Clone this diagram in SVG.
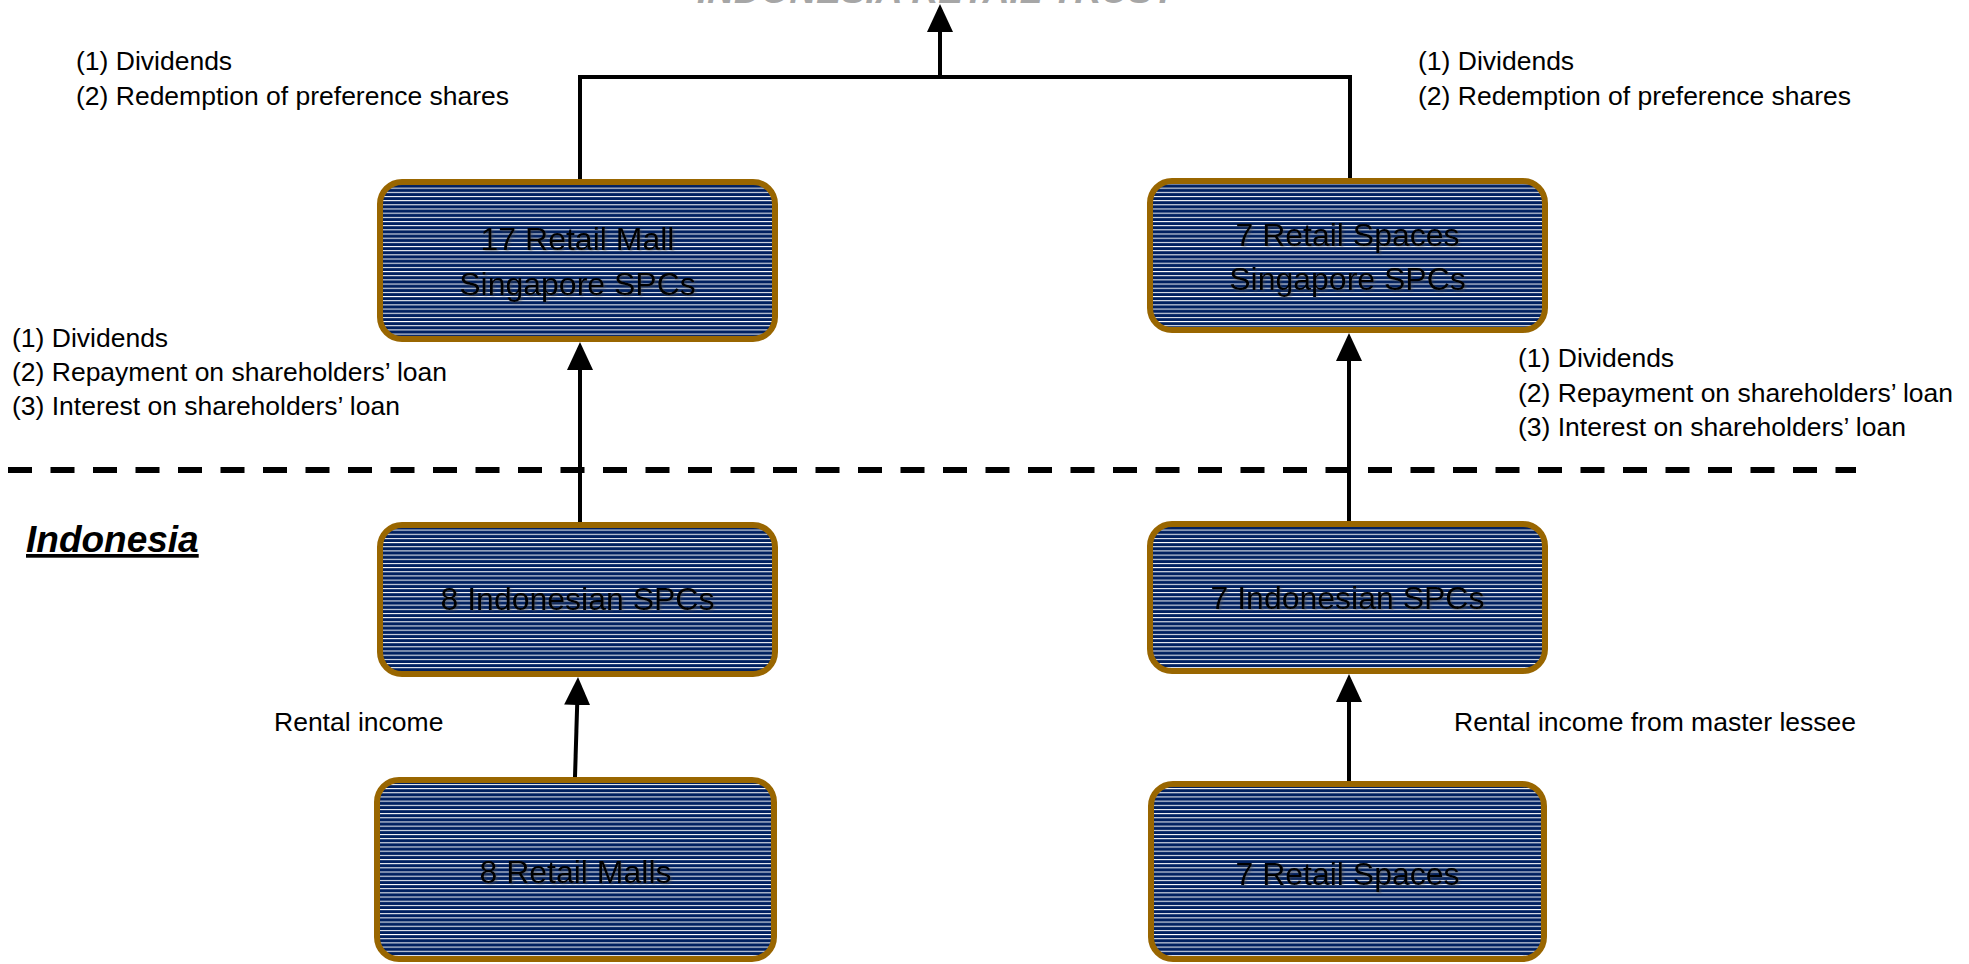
<svg xmlns="http://www.w3.org/2000/svg" width="1969" height="964" viewBox="0 0 1969 964">
<defs>
  <pattern id="hz" patternUnits="userSpaceOnUse" width="12" height="4.17">
    <rect x="0" y="0" width="12" height="4.17" fill="#002060"/>
    <rect x="0" y="0" width="12" height="1" fill="#ffffff"/>
  </pattern>
  <marker id="ah" markerUnits="userSpaceOnUse" markerWidth="28" markerHeight="26" refX="8" refY="13" orient="auto" viewBox="0 0 28 26">
    <path d="M0,0 L28,13 L0,26 z" fill="#000"/>
  </marker>
  <filter id="sh" x="-10%" y="-30%" width="120%" height="160%">
    <feDropShadow dx="1.5" dy="1.5" stdDeviation="0.8" flood-color="#444" flood-opacity="0.5"/>
  </filter>
</defs>
<style>
  .box{fill:url(#hz);stroke:#996600;stroke-width:6}
  .bt{font-family:"Liberation Sans",Arial,sans-serif;font-size:32px;fill:#000;text-anchor:middle;filter:url(#sh)}
  .lbl{font-family:"Liberation Sans",Arial,sans-serif;font-size:26.5px;fill:#000}
  .con{fill:none;stroke:#000;stroke-width:4}
  .arr{fill:none;stroke:#000;stroke-width:4;marker-end:url(#ah)}
</style>
<rect x="0" y="0" width="1969" height="964" fill="#ffffff"/>

<text x="697" y="3" font-family="Liberation Sans, Arial, sans-serif" font-size="37" font-weight="bold" font-style="italic" fill="#a6a6a6">INDONESIA RETAIL TRUST</text>

<g id="connectors">
  <polyline class="con" points="580,182 580,77 1350,77 1350,181" stroke-linejoin="miter"/>
  <line class="arr" x1="940" y1="77" x2="940" y2="24"/>
  <line class="arr" x1="580" y1="522" x2="580" y2="362"/>
  <line class="arr" x1="575" y1="777" x2="577.4" y2="697"/>
  <line class="arr" x1="1349" y1="521" x2="1349" y2="353"/>
  <line class="arr" x1="1349" y1="781" x2="1349" y2="694"/>
  <line x1="8" y1="470" x2="1856" y2="470" stroke="#000" stroke-width="6" stroke-dasharray="24 18.5"/>
</g>

<g id="node-sg-mall">
  <rect class="box" x="380" y="182" width="395" height="157" rx="22"/>
  <text class="bt" x="577.5" y="250">17 Retail Mall</text>
  <text class="bt" x="577.5" y="295">Singapore SPCs</text>
</g>
<g id="node-sg-spaces">
  <rect class="box" x="1150" y="181" width="395" height="149" rx="22"/>
  <text class="bt" x="1347.5" y="246">7 Retail Spaces</text>
  <text class="bt" x="1347.5" y="290">Singapore SPCs</text>
</g>
<g id="node-id-spc8">
  <rect class="box" x="380" y="525" width="395" height="149" rx="22"/>
  <text class="bt" x="577.5" y="610">8 Indonesian SPCs</text>
</g>
<g id="node-id-spc7">
  <rect class="box" x="1150" y="524" width="395" height="147" rx="22"/>
  <text class="bt" x="1347.5" y="609">7 Indonesian SPCs</text>
</g>
<g id="node-malls">
  <rect class="box" x="377" y="780" width="397" height="179" rx="22"/>
  <text class="bt" x="575.5" y="883">8 Retail Malls</text>
</g>
<g id="node-spaces">
  <rect class="box" x="1151" y="784" width="393" height="175" rx="22"/>
  <text class="bt" x="1347.5" y="885">7 Retail Spaces</text>
</g>

<g id="labels">
  <text class="lbl" x="76" y="70">(1) Dividends</text>
  <text class="lbl" x="76" y="105">(2) Redemption of preference shares</text>
  <text class="lbl" x="1418" y="70">(1) Dividends</text>
  <text class="lbl" x="1418" y="105">(2) Redemption of preference shares</text>
  <text class="lbl" x="12" y="347">(1) Dividends</text>
  <text class="lbl" x="12" y="381">(2) Repayment on shareholders’ loan</text>
  <text class="lbl" x="12" y="415">(3) Interest on shareholders’ loan</text>
  <text class="lbl" x="1518" y="367">(1) Dividends</text>
  <text class="lbl" x="1518" y="402">(2) Repayment on shareholders’ loan</text>
  <text class="lbl" x="1518" y="436">(3) Interest on shareholders’ loan</text>
  <text class="lbl" x="274" y="731">Rental income</text>
  <text class="lbl" x="1454" y="731">Rental income from master lessee</text>
  <text x="26" y="552" font-family="Liberation Sans, Arial, sans-serif" font-size="37" font-weight="bold" font-style="italic" text-decoration="underline" fill="#000">Indonesia</text>
</g>
</svg>
